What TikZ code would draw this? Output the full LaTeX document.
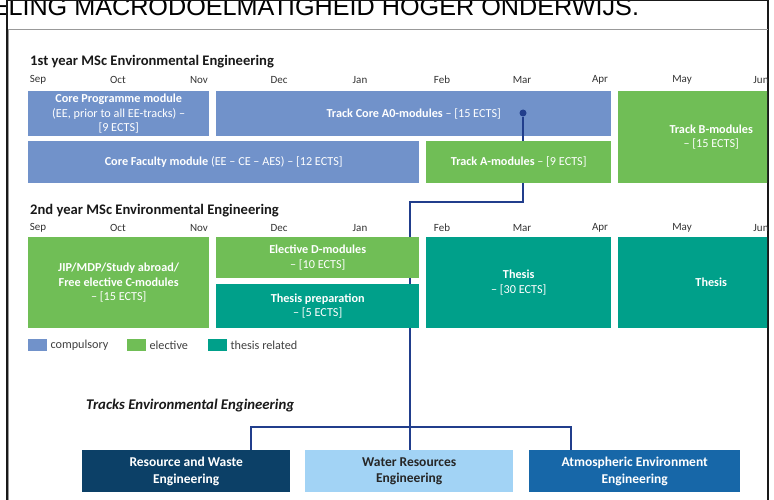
\documentclass[tikz,border=0pt]{standalone}
\usepackage{fontspec}
\setmainfont{Carlito}
\newfontfamily\headfont{Liberation Sans}
\usetikzlibrary{positioning,backgrounds}
\definecolor{compblue}{HTML}{7192CA}
\definecolor{elgreen}{HTML}{70BE56}
\definecolor{thteal}{HTML}{00A08A}
\definecolor{linkblue}{HTML}{213E8C}
\definecolor{rwnavy}{HTML}{0C4067}
\definecolor{wrlight}{HTML}{A2D3F5}
\definecolor{aeblue}{HTML}{1767A8}
\begin{document}
\begin{tikzpicture}[x=1pt,y=-1pt,
	mod/.style={anchor=north west,inner sep=0pt,align=center,text=white,font=\fontsize{12.2}{14.4}\selectfont},
	month/.style={font=\fontsize{11}{12}\selectfont,text=black!80},
	yeartitle/.style={anchor=west,inner sep=0pt,font=\fontsize{14.6}{16}\selectfont\bfseries,text=black!90},
	legbox/.style={anchor=north west,minimum width=19pt,minimum height=12pt,inner sep=0pt},
	legtext/.style={anchor=west,inner sep=0pt,font=\fontsize{12.2}{13}\selectfont,text=black!75},
	track/.style={anchor=north west,minimum height=42pt,inner sep=0pt,align=center,font=\fontsize{13.5}{16.5}\selectfont\bfseries},
	link/.style={draw=linkblue,line width=1.2pt}]
	\useasboundingbox (0,0) rectangle (774,500);
	% heading of the page, cut off at the top
	\node[anchor=base west,inner sep=0pt,font=\headfont\fontsize{25.2}{25}\selectfont] (head) at (-8.5,15.5) {ELING MACRODOELMATIGHEID HOGER ONDERWIJS.};
	\draw[black!90,line width=1pt] (6,.5)--(768,.5);
	\draw[black!90,line width=2pt] (6.5,0)--(6.5,500);
	\draw[black!90,line width=1.5pt] (768,0)--(768,500);
	\draw[black!40,line width=.8pt] (768,29)--(8,29)--(8,500);
	\begin{scope}
		\clip (8.5,29.5) rectangle (767,500);
		% 1st year
		\node[yeartitle] (y1) at (30,62) {1st year MSc Environmental Engineering};
		\foreach \m/\x in {Sep/38,Oct/118,Nov/199,Dec/279,Jan/360,Feb/442,Mar/522,Apr/600,May/682,Jun/761}
			\node[month] (a\m) at (\x,80) {\m};
		\node[mod,fill=compblue,minimum width=181pt,minimum height=45pt] (cpm) at (28,91) {\textbf{Core Programme module}\\(EE, prior to all EE-tracks) --\\{[9 ECTS]}};
		\node[mod,fill=compblue,minimum width=395pt,minimum height=45pt] (tca) at (216,91) {\textbf{Track Core A0-modules} -- [15 ECTS]};
		\node[mod,fill=elgreen,minimum width=186pt,minimum height=92pt] (tbm) at (618,91) {\textbf{Track B-modules}\\-- [15 ECTS]};
		\node[mod,fill=compblue,minimum width=391pt,minimum height=42pt] (cfm) at (28,141) {\textbf{Core Faculty module} (EE -- CE -- AES) -- [12 ECTS]};
		\node[mod,fill=elgreen,minimum width=185pt,minimum height=42pt] (tam) at (426,141) {\textbf{Track A-modules} -- [9 ECTS]};
		% 2nd year
		\node[yeartitle] (y2) at (30,211) {2nd year MSc Environmental Engineering};
		\foreach \m/\x in {Sep/38,Oct/118,Nov/199,Dec/279,Jan/360,Feb/442,Mar/522,Apr/600,May/682,Jun/761}
			\node[month] (b\m) at (\x,228) {\m};
		\node[mod,fill=elgreen,minimum width=181pt,minimum height=91pt] (jip) at (28,237) {\textbf{JIP/MDP/Study abroad/}\\\textbf{Free elective C-modules}\\-- [15 ECTS]};
		\node[mod,fill=elgreen,minimum width=203pt,minimum height=41pt] (edm) at (216,237) {\textbf{Elective D-modules}\\-- [10 ECTS]};
		\node[mod,fill=thteal,minimum width=203pt,minimum height=44pt] (thp) at (216,284) {\textbf{Thesis preparation}\\-- [5 ECTS]};
		\node[mod,fill=thteal,minimum width=185pt,minimum height=91pt] (ths) at (426,237) {\textbf{Thesis}\\-- [30 ECTS]};
		\node[mod,fill=thteal,minimum width=186pt,minimum height=91pt] (thb) at (618,237) {\textbf{Thesis}};
		% legend
		\node[legbox,fill=compblue] (lc) at (28,339) {};
		\node[legtext,right=3pt of lc] (lct) {compulsory};
		\node[legbox,fill=elgreen] (le) at (127,339) {};
		\node[legtext,right=3pt of le] (let) {elective};
		\node[legbox,fill=thteal] (lt) at (208,339) {};
		\node[legtext,right=3pt of lt] (ltt) {thesis related};
		% tracks
		\node[anchor=west,inner sep=0pt,font=\fontsize{14.8}{16}\selectfont\bfseries\itshape,text=black!90] (trk) at (86,406) {Tracks Environmental Engineering};
		\node[track,fill=rwnavy,text=white,minimum width=208pt] (rwe) at (82,450) {Resource and Waste\\Engineering};
		\node[track,fill=wrlight,text=black!85,minimum width=208pt] (wre) at (305,450) {Water Resources\\Engineering};
		\node[track,fill=aeblue,text=white,minimum width=211pt] (aee) at (529,450) {Atmospheric Environment\\Engineering};
		% connector
		\node[circle,fill=linkblue,inner sep=0pt,minimum size=7pt] (dot) at (523,113) {};
		\coordinate (k1) at (523,202);
		\coordinate (k2) at (410,202);
		\coordinate (bl) at (251,427);
		\coordinate (br) at (571,427);
		\draw[link] (dot)--(dot |- tca.south);
		\begin{scope}[on background layer]
			\draw[link] (dot.center)--(k1)--(k2)--(k2 |- wre.north);
			\draw[link] (bl |- rwe.north)--(bl)--(br)--(br |- aee.north);
		\end{scope}
	\end{scope}
\end{tikzpicture}
\end{document}
